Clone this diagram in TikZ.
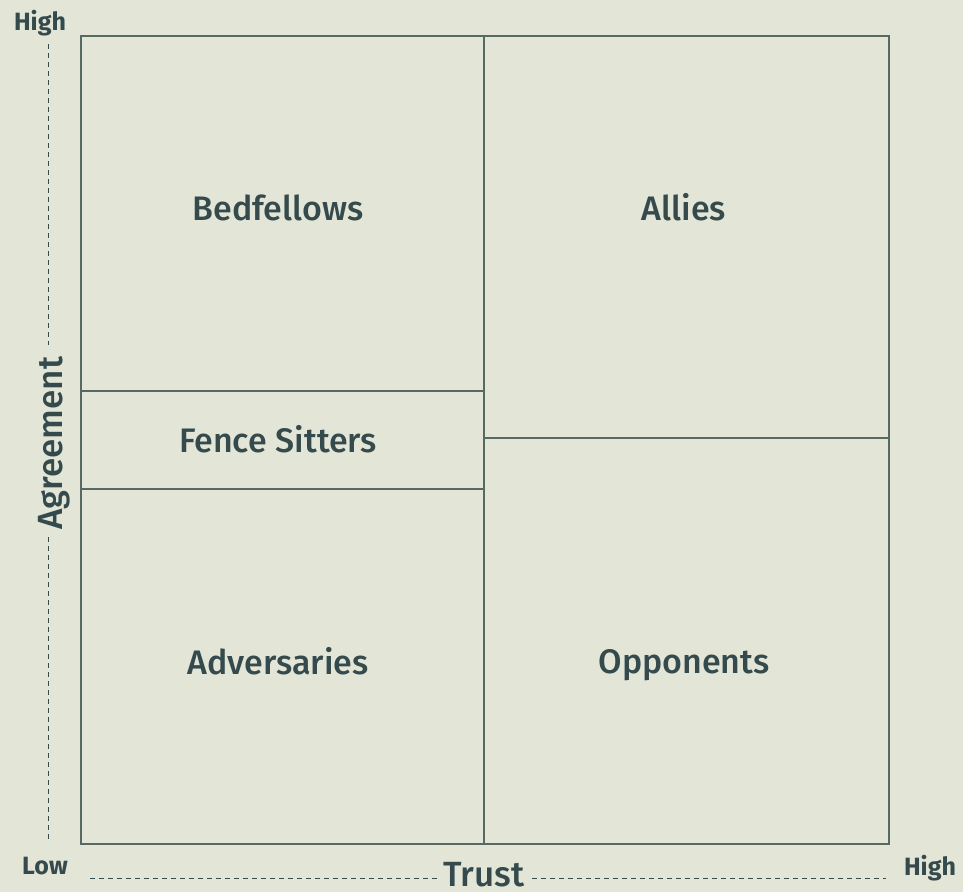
\documentclass[tikz,border=0pt]{standalone}
\usepackage{fontspec}
\setmainfont{Fira Sans}
\newfontfamily\labfont{Fira Sans Medium}
\newfontfamily\boldfont{Fira Sans Bold}
\definecolor{bg}{HTML}{E3E5D7}
\definecolor{ink}{HTML}{344A4C}
\definecolor{rule}{HTML}{566963}
\begin{document}
\begin{tikzpicture}[x=1pt,y=-1pt,
  cell/.style={draw=rule,line width=1.2pt},
  quad/.style={text=ink,font=\labfont\fontsize{34}{40}\selectfont,inner sep=0pt,anchor=base},
  endlab/.style={text=ink,font=\boldfont\fontsize{25}{30}\selectfont,inner sep=0pt,anchor=base},
  axislab/.style={text=ink,font=\labfont\fontsize{35}{40}\selectfont,inner sep=0pt,anchor=base},
  axisline/.style={draw=ink,line width=0.9pt,dash pattern=on 5pt off 4pt}]
\fill[bg] (0,0) rectangle (963,892);
\useasboundingbox (0,0) rectangle (963,892);
% grid
\coordinate (tl) at (81,36);
\coordinate (br) at (889,844);
\draw[cell] (tl) rectangle (br);
\coordinate (mt) at (484,36);
\coordinate (mb) at (484,844);
\draw[cell] (mt) -- (mb);
\coordinate (l1a) at (81,391); \coordinate (l1b) at (484,391);
\coordinate (l2a) at (81,489); \coordinate (l2b) at (484,489);
\coordinate (r1a) at (484,438); \coordinate (r1b) at (889,438);
\draw[cell] (l1a) -- (l1b);
\draw[cell] (l2a) -- (l2b);
\draw[cell] (r1a) -- (r1b);
% quadrant labels
\node[quad] (bed) at (278,220) {Bedfellows};
\node[quad] (all) at (684,220) {Allies};
\node[quad] (fen) at (278,452) {Fence Sitters};
\node[quad] (adv) at (278,674) {Adversaries};
\node[quad] (opp) at (684,673) {Opponents};
% axis end labels
\node[endlab] (yhigh) at (40,30) {High};
\node[endlab] (xlow) at (45,874) {Low};
\node[endlab] (xhigh) at (930,875) {High};
% axis titles
\node[axislab,rotate=90] (agr) at (62,443) {Agreement};
\node[axislab] (tru) at (484,886) {Trust};
% dashed axis lines
\coordinate (ytop) at (48,44);
\coordinate (ya) at (48,345);
\coordinate (yb) at (48,537);
\coordinate (ybot) at (48,840);
\coordinate (xl) at (90,878);
\coordinate (xa) at (437,878);
\coordinate (xb) at (532,878);
\coordinate (xr) at (886,878);
\draw[axisline] (ytop) -- (ya);
\draw[axisline] (yb) -- (ybot);
\draw[axisline] (xl) -- (xa);
\draw[axisline] (xb) -- (xr);
\end{tikzpicture}
\end{document}
